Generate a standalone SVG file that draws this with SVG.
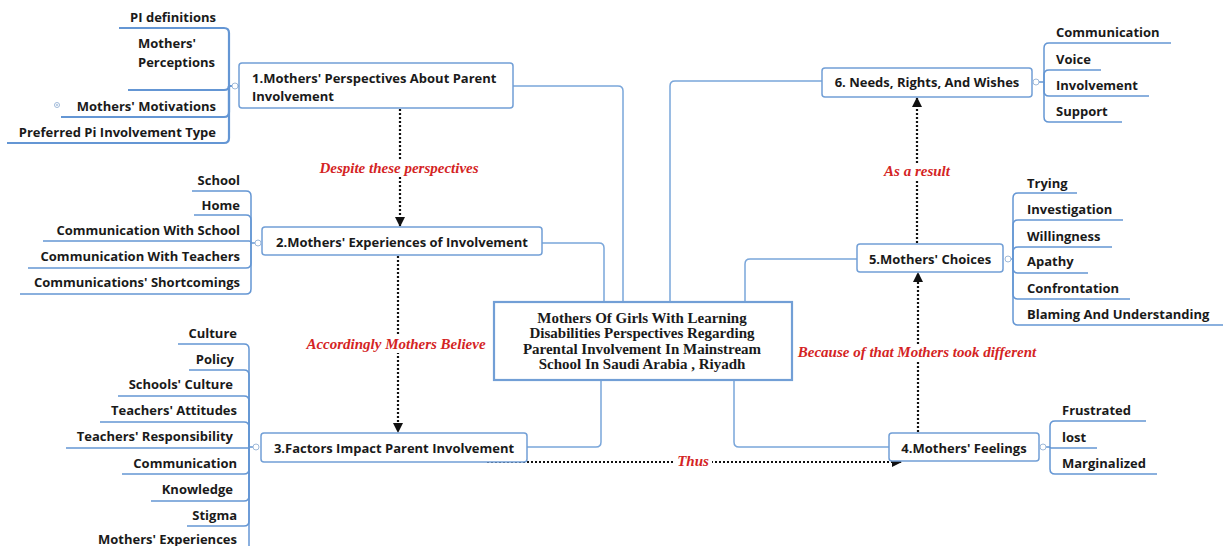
<svg xmlns="http://www.w3.org/2000/svg" width="1224" height="546" viewBox="0 0 1224 546">
  <style>
    .box { fill: #ffffff; stroke: #729fd6; stroke-width: 1.5; }
    .main { fill: #ffffff; stroke: #729fd6; stroke-width: 2.2; }
    .node { font-family: "Open Sans", "Liberation Sans", sans-serif; font-weight: bold; font-size: 13px; fill: #1a1a1a; }
    .leaf { font-family: "Open Sans", "Liberation Sans", sans-serif; font-weight: bold; font-size: 13px; fill: #1a1a1a; }
    .title { font-family: "Liberation Serif", "DejaVu Serif", serif; font-weight: bold; font-size: 15px; fill: #1a1a1a; text-anchor: middle; }
    .rel { font-family: "Liberation Serif", "DejaVu Serif", serif; font-weight: bold; font-style: italic; font-size: 15px; fill: #d42424; text-anchor: middle; }
    .link { fill: none; stroke: #7aa6da; stroke-width: 1.5; }
    .branch { fill: none; stroke: #6496d4; stroke-width: 1.5; }
    .branch.thick { stroke-width: 2.2; }
    .dot { fill: #ffffff; stroke: #9fb9d9; stroke-width: 1; }
    .flow { fill: none; stroke: #111111; stroke-width: 2.2; stroke-dasharray: 2 2; }
    .halo { fill: #ffffff; }
  </style>
  <defs>
    <marker id="arrow" viewBox="0 0 10 10" refX="9" refY="5" markerWidth="10" markerHeight="10" markerUnits="userSpaceOnUse" orient="auto">
      <path d="M0,0 L10,5 L0,10 z" fill="#111111"/>
    </marker>
  </defs>

  <rect width="1224" height="546" fill="#ffffff"/>

  <!-- connectors: central topic to main topics -->
  <g id="connectors">
    <path class="link" d="M513,86 H618 Q623,86 623,91 V302"/>
    <path class="link" d="M542,243 H599 Q604,243 604,248 V302"/>
    <path class="link" d="M527,447 H596 Q601,447 601,442 V380"/>
    <path class="link" d="M889,447 H739 Q734,447 734,442 V380"/>
    <path class="link" d="M857,259 H750 Q745,259 745,264 V302"/>
    <path class="link" d="M822,81 H675 Q670,81 670,86 V302"/>

    <!-- relationship arrows -->
    <path class="flow" d="M400,109 V226" marker-end="url(#arrow)"/>
    <path class="flow" d="M398,256 V432" marker-end="url(#arrow)"/>
    <path class="flow" d="M487,462 H901" marker-end="url(#arrow)"/>
    <path class="flow" d="M918,432 V273" marker-end="url(#arrow)"/>
    <path class="flow" d="M917,243 V98" marker-end="url(#arrow)"/>

    <rect class="halo" x="316" y="160" width="166" height="17"/>
    <text class="rel" x="399" y="173">Despite these perspectives</text>
    <rect class="halo" x="302" y="336" width="188" height="17"/>
    <text class="rel" x="396" y="349">Accordingly Mothers Believe</text>
    <rect class="halo" x="674" y="454" width="38" height="15"/>
    <text class="rel" x="693" y="466">Thus</text>
    <rect class="halo" x="879" y="163" width="76" height="17"/>
    <text class="rel" x="917" y="176">As a result</text>
    <rect class="halo" x="794" y="344" width="247" height="17"/>
    <text class="rel" x="917" y="357">Because of that Mothers took different</text>
  </g>

  <!-- central topic -->
  <g id="central">
    <rect class="main" x="494" y="302" width="298" height="78"/>
    <text class="title" x="642" y="322.5">Mothers Of Girls With Learning</text>
    <text class="title" x="642" y="338">Disabilities Perspectives Regarding</text>
    <text class="title" x="642" y="353.5">Parental Involvement In Mainstream</text>
    <text class="title" x="642" y="369">School In Saudi Arabia , Riyadh</text>
  </g>

  <!-- 1. perspectives -->
  <g id="node1">
    <rect class="box" x="239" y="63" width="274" height="45" rx="3"/>
    <text class="node" x="252" y="83">1.Mothers' Perspectives About Parent</text>
    <text class="node" x="252" y="101">Involvement</text>
    <path class="branch thick" d="M232,86 H229 V33 Q229,28 224,28 H119"/>
    <path class="branch thick" d="M229,86 Q229,90 224,90 H128"/>
    <path class="branch thick" d="M229,86 V112 Q229,117 224,117 H61"/>
    <path class="branch thick" d="M229,86 V138 Q229,143 224,143 H7"/>
    <line class="branch" x1="238" y1="86" x2="239" y2="86"/>
    <circle class="dot" cx="235" cy="86" r="3"/>
    <text class="leaf" x="216" y="22" text-anchor="end">PI definitions</text>
    <text class="leaf" x="138" y="48">Mothers'</text>
    <text class="leaf" x="138" y="67">Perceptions</text>
    <circle class="dot" cx="57" cy="105" r="2.5"/>
    <circle cx="57" cy="105" r="0.9" fill="#9fb9d9"/>
    <text class="leaf" x="216" y="111" text-anchor="end">Mothers' Motivations</text>
    <text class="leaf" x="216" y="137" text-anchor="end">Preferred Pi Involvement Type</text>
  </g>

  <!-- 2. experiences -->
  <g id="node2">
    <rect class="box" x="262" y="227" width="280" height="28" rx="3"/>
    <text class="node" x="402" y="247" text-anchor="middle" font-size="14">2.Mothers' Experiences of Involvement</text>
    <path class="branch" d="M255,243 H251 V196 Q251,191 246,191 H192"/>
    <path class="branch" d="M251,243 V220 Q251,215 246,215 H194"/>
    <path class="branch" d="M251,243 Q251,241 249,241 H43"/>
    <path class="branch" d="M251,243 V263 Q251,268 246,268 H28"/>
    <path class="branch" d="M251,243 V289 Q251,294 246,294 H20"/>
    <circle class="dot" cx="258" cy="243" r="3"/>
    <text class="leaf" x="240" y="185" text-anchor="end">School</text>
    <text class="leaf" x="240" y="210" text-anchor="end">Home</text>
    <text class="leaf" x="240" y="235" text-anchor="end">Communication With School</text>
    <text class="leaf" x="240" y="261" text-anchor="end">Communication With Teachers</text>
    <text class="leaf" x="240" y="287" text-anchor="end">Communications' Shortcomings</text>
  </g>

  <!-- 3. factors -->
  <g id="node3">
    <rect class="box" x="261" y="433" width="266" height="29" rx="3"/>
    <text class="node" x="394" y="453" text-anchor="middle">3.Factors Impact Parent Involvement</text>
    <path class="branch" d="M253,447 H249 V349 Q249,344 244,344 H178"/>
    <path class="branch" d="M249,447 V375 Q249,370 244,370 H189"/>
    <path class="branch" d="M249,447 V401 Q249,396 244,396 H118"/>
    <path class="branch" d="M249,447 V427 Q249,422 244,422 H100"/>
    <path class="branch" d="M249,447 Q249,448 248,448 H66"/>
    <path class="branch" d="M249,447 V469 Q249,474 244,474 H122"/>
    <path class="branch" d="M249,447 V496 Q249,501 244,501 H151"/>
    <path class="branch" d="M249,447 V521 Q249,526 244,526 H187"/>
    <path class="branch" d="M249,447 V552"/>
    <circle class="dot" cx="256" cy="447" r="3"/>
    <text class="leaf" x="237" y="338" text-anchor="end">Culture</text>
    <text class="leaf" x="234" y="364" text-anchor="end">Policy</text>
    <text class="leaf" x="233" y="389" text-anchor="end">Schools' Culture</text>
    <text class="leaf" x="237" y="415" text-anchor="end">Teachers' Attitudes</text>
    <text class="leaf" x="233" y="441" text-anchor="end">Teachers' Responsibility</text>
    <text class="leaf" x="237" y="468" text-anchor="end">Communication</text>
    <text class="leaf" x="233" y="494" text-anchor="end">Knowledge</text>
    <text class="leaf" x="237" y="520" text-anchor="end">Stigma</text>
    <text class="leaf" x="237" y="544" text-anchor="end">Mothers' Experiences</text>
  </g>

  <!-- 4. feelings -->
  <g id="node4">
    <rect class="box" x="889" y="433" width="150" height="28" rx="3"/>
    <text class="node" x="964" y="453" text-anchor="middle">4.Mothers' Feelings</text>
    <path class="branch" d="M1046,447 H1050 V426 Q1050,421 1055,421 H1146"/>
    <path class="branch" d="M1050,447 Q1050,448 1051,448 H1097"/>
    <path class="branch" d="M1050,447 V469 Q1050,474 1055,474 H1157"/>
    <circle class="dot" cx="1043" cy="447" r="3"/>
    <text class="leaf" x="1062" y="415">Frustrated</text>
    <text class="leaf" x="1062" y="442">lost</text>
    <text class="leaf" x="1062" y="468">Marginalized</text>
  </g>

  <!-- 5. choices -->
  <g id="node5">
    <rect class="box" x="857" y="244" width="146" height="28" rx="3"/>
    <text class="node" x="930" y="264" text-anchor="middle">5.Mothers' Choices</text>
    <path class="branch" d="M1011,259 H1013 V198 Q1013,193 1018,193 H1077"/>
    <path class="branch" d="M1013,259 V225 Q1013,220 1018,220 H1123"/>
    <path class="branch" d="M1013,259 V252 Q1013,247 1018,247 H1112"/>
    <path class="branch" d="M1013,259 V268 Q1013,273 1018,273 H1088"/>
    <path class="branch" d="M1013,259 V294 Q1013,299 1018,299 H1130"/>
    <path class="branch" d="M1013,259 V320 Q1013,325 1018,325 H1223"/>
    <circle class="dot" cx="1008" cy="259" r="3"/>
    <text class="leaf" x="1027" y="188">Trying</text>
    <text class="leaf" x="1027" y="214">Investigation</text>
    <text class="leaf" x="1027" y="241">Willingness</text>
    <text class="leaf" x="1027" y="266">Apathy</text>
    <text class="leaf" x="1027" y="293">Confrontation</text>
    <text class="leaf" x="1027" y="319">Blaming And Understanding</text>
  </g>

  <!-- 6. needs -->
  <g id="node6">
    <rect class="box" x="822" y="68" width="210" height="29" rx="3"/>
    <text class="node" x="927" y="87" text-anchor="middle">6. Needs, Rights, And Wishes</text>
    <path class="branch" d="M1039,82 H1044 V48 Q1044,43 1049,43 H1171"/>
    <path class="branch" d="M1044,82 V75 Q1044,70 1049,70 H1101"/>
    <path class="branch" d="M1044,82 V91 Q1044,96 1049,96 H1149"/>
    <path class="branch" d="M1044,82 V117 Q1044,122 1049,122 H1122"/>
    <circle class="dot" cx="1036" cy="82" r="3"/>
    <text class="leaf" x="1056" y="37">Communication</text>
    <text class="leaf" x="1056" y="64">Voice</text>
    <text class="leaf" x="1056" y="90">Involvement</text>
    <text class="leaf" x="1056" y="116">Support</text>
  </g>
</svg>
